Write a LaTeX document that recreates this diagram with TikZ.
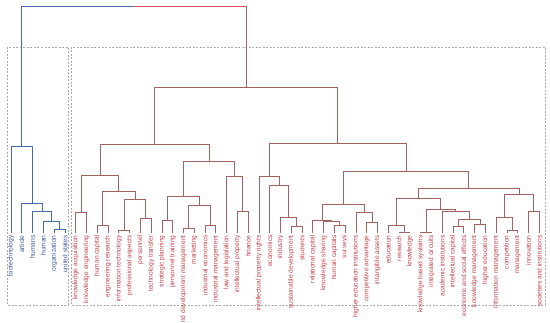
\documentclass[tikz,border=0pt]{standalone}
\usepackage{fontspec}
\setmainfont{Liberation Sans}
\usetikzlibrary{calc}
\definecolor{bluel}{RGB}{72,108,168}
\definecolor{brownl}{RGB}{160,100,96}
\definecolor{redtop}{RGB}{222,78,92}
\definecolor{bluelab}{RGB}{60,88,165}
\definecolor{redlab}{RGB}{196,64,72}
\definecolor{dashgray}{RGB}{170,170,170}
\newcommand\djoin[5]{%
  \coordinate (tmph) at (0,#4);
  \draw[#5] (#1) -- (#1 |- tmph) -- (#2 |- tmph) -- (#2);
  \coordinate (#3) at ($(#1 |- tmph)!0.5!(#2 |- tmph)$);}
\begin{document}
\begin{tikzpicture}[x=1pt,y=-1pt,line width=0.75pt,
  lab/.style={rotate=90,anchor=east,inner sep=0pt,font=\fontsize{6.6}{7}\selectfont},
  dashbox/.style={draw=dashgray,line width=0.6pt,dash pattern=on 2pt off 1.5pt}]
\useasboundingbox (0,0) rectangle (550,323);
\draw[dashbox] (7,47) rectangle (68,305);
\draw[dashbox] (71,47) rectangle (545,305);
\foreach \i in {0,...,49} \coordinate (L\i) at ({11+\i*10.78},233);
% labels
\foreach \i/\t in {0/biotechnology,1/article,2/humans,3/human,4/organization,5/united states}
  \node[lab,text=bluelab] (t\i) at ([yshift=-2pt]L\i) {\t};
\foreach \i/\t in {6/knowledge acquisition,7/knowledge engineering,8/human capital,9/engineering research,
  10/information technology,11/professional aspects,12/personnel,13/technology transfer,
  14/strategic planning,15/personnel training,16/nd development management,17/marketing,
  18/industrial economics,19/industrial management,20/law and legislation,21/intellectual property,
  22/finance,23/intellectual property rights,24/economics,25/industry,26/sustainable development,
  27/students,28/relational capital,29/knowledge sharing,30/human capitals,31/surveys,
  32/higher education institutions,33/competitive advantage,34/intangible assets,35/education,
  36/research,37/knowledge,38/knowledge based systems,39/integrated circuits,40/academic institutions,
  41/intellectual capital,42/economic and social effects,43/knowledge management,44/higher education,
  45/information management,46/competition,47/management,48/innovation,49/societies and institutions}
  \node[lab,text=redlab] (t\i) at ([yshift=-2pt]L\i) {\t};
% blue cluster
\djoin{L4}{L5}{g1}{229}{bluel}
\djoin{L3}{g1}{g2}{221}{bluel}
\djoin{L2}{g2}{g3}{211}{bluel}
\djoin{L1}{g3}{g4}{203}{bluel}
\djoin{L0}{g4}{Bl}{146}{bluel}
% red cluster
\djoin{L6}{L7}{a1}{212.7}{brownl}
\djoin{L8}{L9}{a2}{225}{brownl}
\djoin{L10}{L11}{a3}{230.5}{brownl}
\djoin{L12}{L13}{a4}{218.3}{brownl}
\djoin{a3}{a4}{a5}{199.3}{brownl}
\djoin{a2}{a5}{a6}{191.7}{brownl}
\djoin{a1}{a6}{a7}{175}{brownl}
\djoin{L14}{L15}{b1}{220.7}{brownl}
\djoin{L16}{L17}{b2}{228.3}{brownl}
\djoin{L18}{L19}{b3}{225}{brownl}
\djoin{b2}{b3}{b4}{205}{brownl}
\djoin{b1}{b4}{b5}{196}{brownl}
\djoin{L21}{L22}{b6}{211}{brownl}
\djoin{L20}{b6}{b7}{176}{brownl}
\djoin{b5}{b7}{b8}{161.7}{brownl}
\djoin{a7}{b8}{A}{144.5}{brownl}
\djoin{L26}{L27}{c1}{226}{brownl}
\djoin{L25}{c1}{c2}{217.3}{brownl}
\djoin{L24}{c2}{c3}{185}{brownl}
\djoin{L23}{c3}{B}{176.7}{brownl}
\djoin{L30}{L31}{d1}{225.7}{brownl}
\djoin{L29}{d1}{d2}{221.7}{brownl}
\djoin{L28}{d2}{d3}{220}{brownl}
\djoin{L33}{L34}{d4}{222.7}{brownl}
\djoin{L32}{d4}{d5}{212.7}{brownl}
\djoin{d3}{d5}{C}{204}{brownl}
\djoin{L36}{L37}{e1}{232.2}{brownl}
\djoin{L35}{e1}{e2}{225}{brownl}
\djoin{L38}{L39}{e3}{232.2}{brownl}
\djoin{L41}{L42}{e4}{226.7}{brownl}
\djoin{L43}{L44}{e5}{224}{brownl}
\djoin{e4}{e5}{e6}{219}{brownl}
\djoin{L40}{e6}{e7}{211.7}{brownl}
\djoin{e3}{e7}{e8}{209.3}{brownl}
\djoin{e2}{e8}{e9}{198.3}{brownl}
\djoin{L46}{L47}{f1}{230.7}{brownl}
\djoin{L45}{f1}{f2}{217.7}{brownl}
\djoin{L48}{L49}{f3}{211.7}{brownl}
\djoin{f2}{f3}{f4}{194.3}{brownl}
\djoin{e9}{f4}{E}{188.3}{brownl}
\djoin{C}{E}{D}{171.7}{brownl}
\djoin{B}{D}{R2}{143.5}{brownl}
\djoin{A}{R2}{Rred}{87}{brownl}
% top link
\coordinate (tt) at (0,6);
\draw[bluel] (Bl) -- (Bl |- tt) -- ($(Bl |- tt)!0.5!(Rred |- tt)$) coordinate (topmid);
\draw[redtop] (topmid) -- (Rred |- tt);
\draw[brownl] (Rred |- tt) -- (Rred);
\end{tikzpicture}
\end{document}
